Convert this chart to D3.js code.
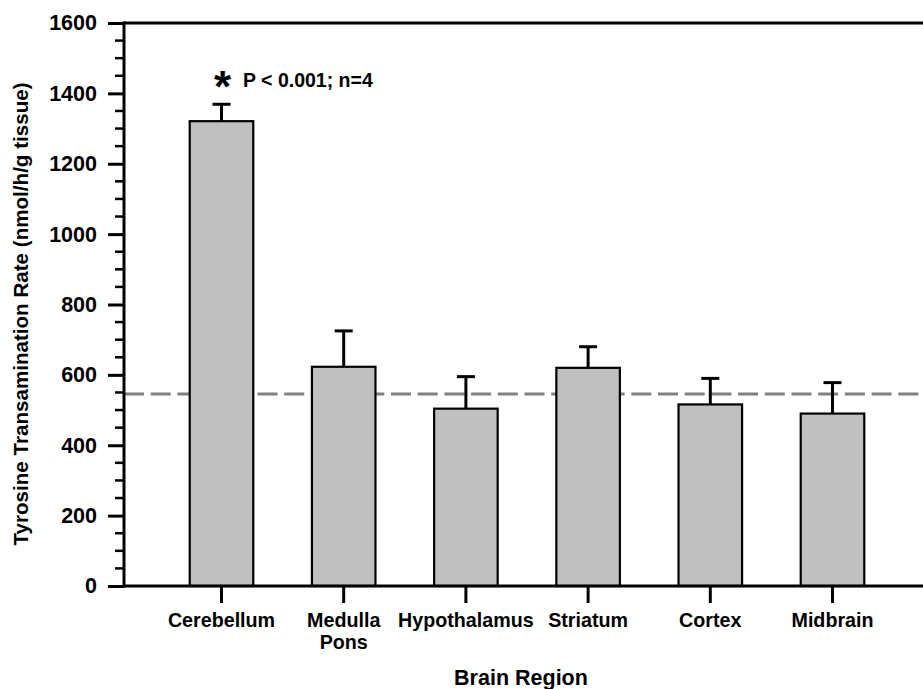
<!DOCTYPE html>
<html>
<head>
<meta charset="utf-8">
<script src="https://cdn.jsdelivr.net/npm/d3@7"></script>
<style>
  body { margin: 0; background: #fff; }
  svg { display: block; font-family: "Liberation Sans", Arial, sans-serif; font-weight: bold; }
</style>
</head>
<body>
<svg id="chart" width="923" height="689"></svg>
<script>
// data
var regions = ["Cerebellum", "Medulla\nPons", "Hypothalamus", "Striatum", "Cortex", "Midbrain"];
var rates = [1321, 623, 504, 620, 516, 490];
var errors = [48, 102, 91, 60, 74, 88];
var meanRate = 546;
var yTicks = [0, 200, 400, 600, 800, 1000, 1200, 1400, 1600];
var annotation = "P < 0.001; n=4";

var width = 923, height = 689;
var plotLeft = 124, plotTop = 23, plotBottom = 586;

var svg = d3.select("#chart");

var x = d3.scaleBand()
    .domain(regions)
    .range([160.4, 893.6])
    .paddingInner(0.48)
    .paddingOuter(0.24);

var y = d3.scaleLinear()
    .domain([0, 1600])
    .range([plotBottom, plotTop]);

// dashed mean line sits behind the bars
svg.append("line")
    .attr("x1", plotLeft).attr("x2", width)
    .attr("y1", y(meanRate)).attr("y2", y(meanRate))
    .attr("stroke", "#808080")
    .attr("stroke-width", 3)
    .attr("stroke-dasharray", "20,6.7");

// error bars (upper only)
var err = svg.selectAll("g.err")
    .data(regions)
  .enter().append("g")
    .attr("class", "err")
    .attr("transform", function(d) { return "translate(" + (x(d) + x.bandwidth() / 2) + ",0)"; });

err.append("line")
    .attr("y1", function(d, i) { return y(rates[i]); })
    .attr("y2", function(d, i) { return y(rates[i] + errors[i]); })
    .attr("stroke", "#000").attr("stroke-width", 3);

err.append("line")
    .attr("x1", -9).attr("x2", 9)
    .attr("y1", function(d, i) { return y(rates[i] + errors[i]); })
    .attr("y2", function(d, i) { return y(rates[i] + errors[i]); })
    .attr("stroke", "#000").attr("stroke-width", 3);

// bars
svg.selectAll("rect.bar")
    .data(regions)
  .enter().append("rect")
    .attr("class", "bar")
    .attr("x", function(d) { return x(d); })
    .attr("y", function(d, i) { return y(rates[i]); })
    .attr("width", x.bandwidth())
    .attr("height", function(d, i) { return y(0) - y(rates[i]); })
    .attr("fill", "#c0c0c0")
    .attr("stroke", "#000")
    .attr("stroke-width", 2.2);

// y axis with minor ticks every 50
var yAxis = svg.append("g")
    .attr("transform", "translate(" + plotLeft + ",0)")
    .call(d3.axisLeft(y).tickValues(yTicks).tickSize(16).tickPadding(11).tickFormat(d3.format("d")));
yAxis.select(".domain").remove();
yAxis.selectAll(".tick line").attr("stroke-width", 3);
yAxis.selectAll(".tick text")
    .attr("font-size", 21.5)
    .attr("font-family", "Liberation Sans, Arial, sans-serif")
    .attr("font-weight", "bold")
    .attr("fill", "#000");

var minor = d3.range(0, 1601, 50).filter(function(v) { return v % 200 !== 0; });
svg.append("g").selectAll("line")
    .data(minor)
  .enter().append("line")
    .attr("x1", plotLeft - 9).attr("x2", plotLeft)
    .attr("y1", function(d) { return y(d); })
    .attr("y2", function(d) { return y(d); })
    .attr("stroke", "#000").attr("stroke-width", 2.5);

// axis lines + top frame
svg.append("line")
    .attr("x1", plotLeft).attr("x2", plotLeft)
    .attr("y1", plotTop - 1.5).attr("y2", plotBottom + 1.5)
    .attr("stroke", "#000").attr("stroke-width", 3);
svg.append("line")
    .attr("x1", plotLeft).attr("x2", width)
    .attr("y1", plotBottom).attr("y2", plotBottom)
    .attr("stroke", "#000").attr("stroke-width", 3);
svg.append("line")
    .attr("x1", plotLeft).attr("x2", width)
    .attr("y1", plotTop).attr("y2", plotTop)
    .attr("stroke", "#000").attr("stroke-width", 3);

// x axis ticks and labels
var xAxis = svg.append("g")
    .attr("transform", "translate(0," + plotBottom + ")")
    .call(d3.axisBottom(x).tickSize(17).tickFormat(""));
xAxis.select(".domain").remove();
xAxis.selectAll(".tick line").attr("stroke-width", 3);

xAxis.selectAll(".tick").append("text")
    .attr("fill", "#000")
    .attr("font-size", 19.7)
    .attr("font-family", "Liberation Sans, Arial, sans-serif")
    .attr("font-weight", "bold")
    .attr("text-anchor", "middle")
    .selectAll("tspan")
    .data(function(d) { return d.split("\n"); })
  .enter().append("tspan")
    .attr("x", 0)
    .attr("y", function(d, i) { return 41 + i * 22; })
    .text(function(d) { return d; });

// axis titles
svg.append("text")
    .attr("x", 521).attr("y", 685)
    .attr("text-anchor", "middle")
    .attr("font-size", 21.5)
    .text("Brain Region");

svg.append("text")
    .attr("transform", "translate(28,314) rotate(-90)")
    .attr("text-anchor", "middle")
    .attr("font-size", 20.6)
    .text("Tyrosine Transamination Rate (nmol/h/g tissue)");

// significance note above cerebellum
var cx = x(regions[0]) + x.bandwidth() / 2;
svg.append("text")
    .attr("x", cx + 1).attr("y", 102)
    .attr("text-anchor", "middle")
    .attr("font-size", 44)
    .text("*");
svg.append("text")
    .attr("x", 243).attr("y", 87)
    .attr("font-size", 19.5)
    .text(annotation);
</script>
</body>
</html>
